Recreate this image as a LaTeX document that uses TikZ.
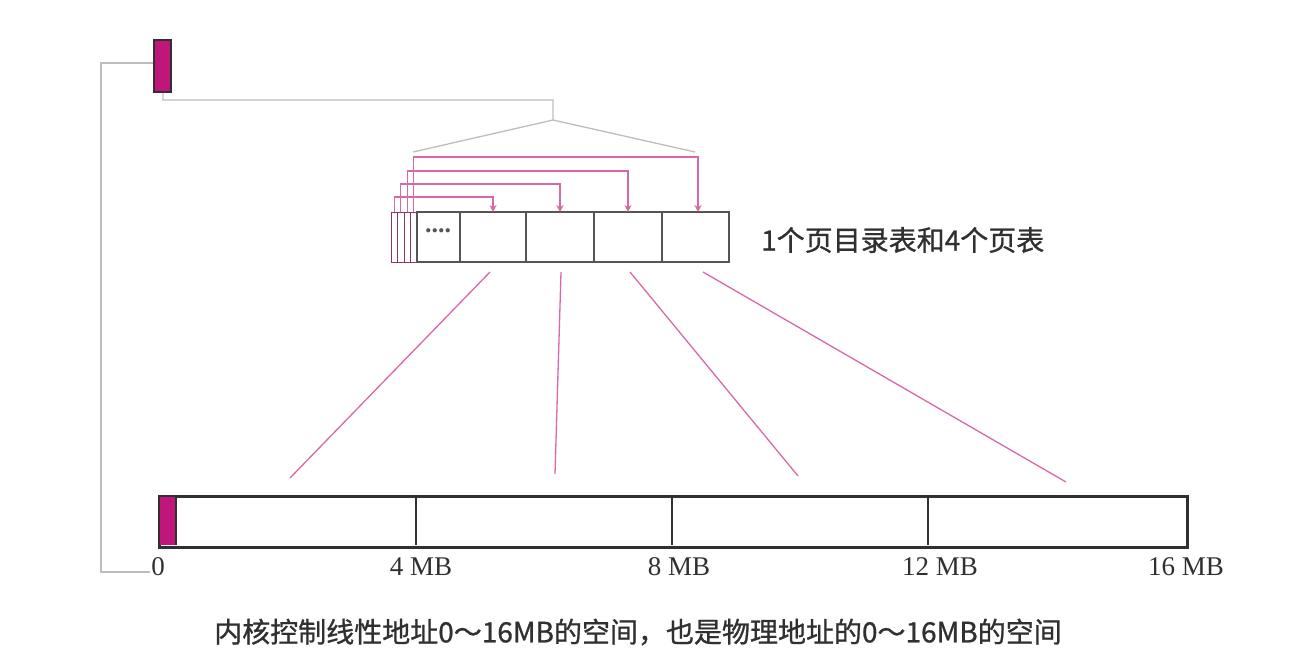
\documentclass[tikz,border=0pt]{standalone}
\usepackage{fontspec}
\setmainfont{Liberation Serif}
\newfontfamily\cjk[FakeBold=0.9]{Noto Sans CJK SC}
\usetikzlibrary{arrows.meta}
\definecolor{mag}{HTML}{C0157A}
\definecolor{pinkline}{HTML}{D868A8}
\definecolor{grayline}{HTML}{BDBDBD}
\definecolor{boxline}{HTML}{555555}
\definecolor{txt}{HTML}{303030}
\tikzset{
  cell/.style={draw=boxline, line width=1.3pt, fill=white, inner sep=0pt, outer sep=0pt, anchor=north west},
  gline/.style={draw=grayline, line width=1.3pt},
  pline/.style={draw=pinkline, line width=1.3pt},
  parrow/.style={pline, -{Stealth[length=7pt,width=7pt]}},
  memlbl/.style={font=\fontsize{27}{27}\selectfont, text=txt, inner sep=0pt, anchor=base},
}
\begin{document}
\begin{tikzpicture}[x=1pt,y=-1pt]
\useasboundingbox (0,0) rectangle (1311,663);
% control register box
\node[draw=txt, line width=2pt, fill=mag, minimum width=17pt, minimum height=52pt, inner sep=0pt] (cr3) at (162.5,66) {};
% page directory entries
\foreach \i/\x in {1/391,2/397.5,3/404,4/410.5}{
  \node[cell, draw=mag!50!boxline, line width=1pt, minimum width=6.5pt, minimum height=50pt] (e\i) at (\x,212) {};
}
\node[cell, minimum width=43pt, minimum height=50pt] (dots) at (417,212) {};
\node[font=\bfseries\fontsize{26}{26}\selectfont, text=boxline, inner sep=0pt] (dt) at (438,231) {....};
\node[cell, minimum width=66pt, minimum height=50pt] (p1) at (460,212) {};
\node[cell, minimum width=68pt, minimum height=50pt] (p2) at (526,212) {};
\node[cell, minimum width=68pt, minimum height=50pt] (p3) at (594,212) {};
\node[cell, minimum width=67pt, minimum height=50pt] (p4) at (662,212) {};
\node[font=\cjk\fontsize{28}{28}\selectfont, text=txt, anchor=west, inner sep=0pt] (lbl) at (761,240) {1个页目录表和4个页表};
% memory bar
\node[draw=txt, line width=3pt, minimum width=1028pt, minimum height=51pt, inner sep=0pt, anchor=north west] (mem) at (158,495) {};
\node[fill=mag, minimum width=16pt, minimum height=48pt, inner sep=0pt, anchor=north west] (k) at (159.5,496.5) {};
\draw[txt, line width=1.2pt] (k.north east) -- (k.south east);
\foreach \x/\n in {416/d1,672/d2,928/d3}{
  \coordinate (\n t) at (\x,496.5);
  \coordinate (\n b) at (\x,544.5);
  \draw[txt, line width=1.2pt] (\n t) -- (\n b);
}
\node[memlbl] (m0) at (158,575) {0};
\node[memlbl] (m4) at (421,575) {4 MB};
\node[memlbl] (m8) at (679,575) {8 MB};
\node[memlbl] (m12) at (940,575) {12 MB};
\node[memlbl] (m16) at (1186,575) {16 MB};
\node[font=\cjk\fontsize{28}{28}\selectfont, text=txt, inner sep=0pt] (cap) at (638,632) {内核控制线性地址0～16MB的空间，也是物理地址的0～16MB的空间};
% gray connectors
\coordinate (gl) at (101,63);
\coordinate (gb) at (101,572);
\coordinate (ge) at (150,572);
\draw[gline] (cr3.west |- gl) -- (gl) -- (gb) -- (ge);
\coordinate (c1) at (163,100);
\coordinate (c2) at (553,100);
\coordinate (apex) at (553,120);
\coordinate (gL) at (413,152);
\coordinate (gR) at (695,152);
\draw[gline] (c1 |- cr3.south) -- (c1) -- (c2) -- (apex) -- (gL);
\draw[gline] (apex) -- (gR);
% pink arrows from entries to page tables
\draw[parrow] (e1.north) -- ++(0,-15) -| (p1.north);
\draw[parrow] (e2.north) -- ++(0,-28) -| (p2.north);
\draw[parrow] (e3.north) -- ++(0,-41) -| (p3.north);
\draw[parrow] (e4.north) -- ++(0,-55) -| ([xshift=2.5pt]p4.north);
% pink lines to memory
\coordinate (s1) at (490,272); \coordinate (t1) at (290,478);
\coordinate (s2) at (561,272); \coordinate (t2) at (555,474);
\coordinate (s3) at (630,272); \coordinate (t3) at (798,476);
\coordinate (s4) at (703,272); \coordinate (t4) at (1066,482);
\draw[pline] (s1) -- (t1);
\draw[pline] (s2) -- (t2);
\draw[pline] (s3) -- (t3);
\draw[pline] (s4) -- (t4);
\end{tikzpicture}
\end{document}
